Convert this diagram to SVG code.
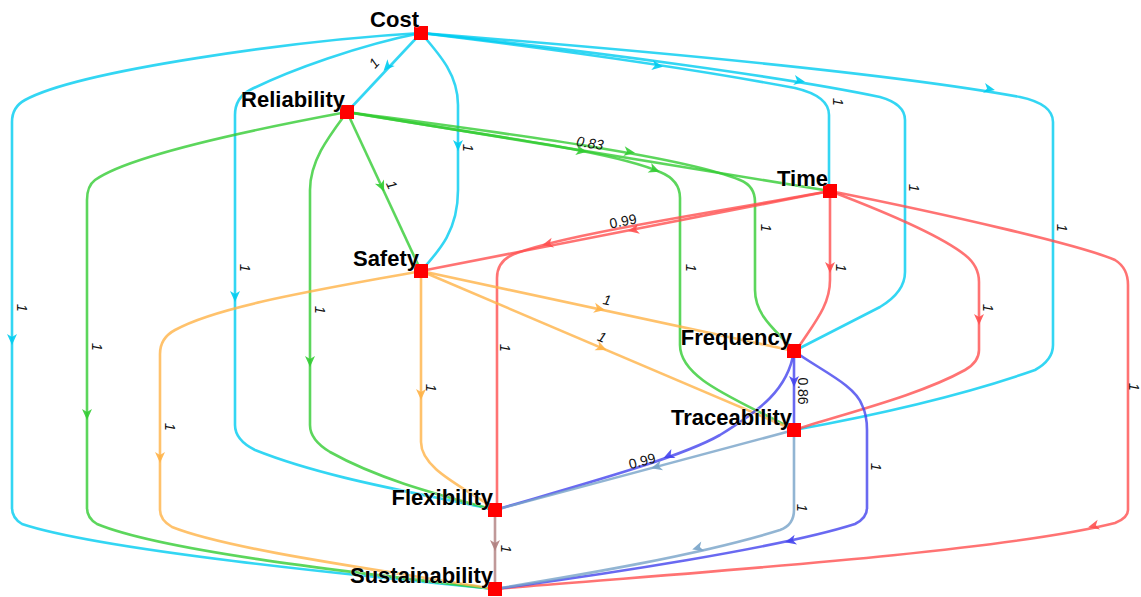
<svg xmlns="http://www.w3.org/2000/svg" xmlns:xlink="http://www.w3.org/1999/xlink" width="1141" height="597" viewBox="0 0 1141 597">
<style>
.e{fill:none;stroke-width:2.6;stroke-opacity:0.8;stroke-linejoin:round}
.cy{stroke:#00ccf0;fill:#00ccf0}
.gr{stroke:#33cc33;fill:#33cc33}
.rd{stroke:#ff5050;fill:#ff5050}
.or{stroke:#ffb347;fill:#ffb347}
.bl{stroke:#4444ee;fill:#4444ee}
.st{stroke:#77a3c8;fill:#77a3c8}
.br{stroke:#b08080;fill:#b08080}
.a{stroke:none;fill-opacity:0.9}
.l{font-family:"Liberation Sans",Arial,sans-serif;font-size:14px;font-style:italic;fill:#111;text-anchor:middle}
.lu{font-style:normal}
.n{font-family:"Liberation Sans",Arial,sans-serif;font-size:22px;font-weight:bold;fill:#000;text-anchor:end;stroke:#fff;stroke-width:0.6;paint-order:stroke}
.sq{fill:#ff0000}
</style>
<defs>
<path id="ah" d="M5,0 L-6,-5 L-3,0 L-6,5 Z"/>
</defs>
<g id="connectors">
<path class="e cy" style="fill:none" d="M421,33 L347,112"/>
<path class="e cy" style="fill:none" d="M421,33 C440,55 458,75 458,105 L458,190 C458,230 440,250 421,271"/>
<path class="e cy" style="fill:none" d="M421,33 C560,50 700,70 795,88 Q829,96 829,115 L829,184"/>
<path class="e cy" style="fill:none" d="M421,33 C600,52 790,78 880,97 Q905,104 905,120 L905,272 Q905,292 880,307 L800,348"/>
<path class="e cy" style="fill:none" d="M421,33 C700,55 900,75 1020,97 Q1053,104 1053,122 L1053,345 Q1053,360 1035,370 C950,400 860,418 794,430"/>
<path class="e cy" style="fill:none" d="M421,33 C360,45 290,70 250,90 Q235,98 235,115 L235,425 Q235,440 255,450 C330,480 430,495 495,510"/>
<path class="e cy" style="fill:none" d="M421,33 C300,40 80,70 25,100 Q12,107 12,122 L12,508 Q12,518 22,524 C100,550 350,575 495,589"/>
<path class="e gr" style="fill:none" d="M347,112 L421,271"/>
<path class="e gr" style="fill:none" d="M347,112 C330,135 310,160 310,190 L310,425 Q310,440 330,452 C380,480 440,495 495,510"/>
<path class="e gr" style="fill:none" d="M347,112 C250,130 130,155 95,180 Q87,186 87,200 L87,508 Q87,518 97,524 C160,550 330,570 495,589"/>
<path class="e gr" style="fill:none" d="M347,112 L830,191"/>
<path class="e gr" style="fill:none" d="M347,112 C480,130 680,155 740,180 Q755,186 755,202 L755,290 C755,318 780,333 794,351"/>
<path class="e gr" style="fill:none" d="M347,112 C480,135 610,150 660,172 Q680,180 680,198 L680,345 C680,380 740,400 794,430"/>
<path class="e rd" style="fill:none" d="M830,191 L421,271"/>
<path class="e rd" style="fill:none" d="M830,191 C700,215 560,235 512,255 Q497,262 497,278 L497,510"/>
<path class="e rd" style="fill:none" d="M830,191 L830,280 C830,305 815,322 798,348"/>
<path class="e rd" style="fill:none" d="M830,191 C880,210 940,235 965,255 Q979,266 979,282 L979,350 Q979,362 965,370 C920,395 850,412 794,430"/>
<path class="e rd" style="fill:none" d="M830,191 C950,215 1080,245 1115,260 Q1128,268 1128,285 L1128,510 Q1128,518 1115,523 C1000,552 700,572 495,589"/>
<path class="e or" style="fill:none" d="M421,271 L794,351"/>
<path class="e or" style="fill:none" d="M421,271 L794,430"/>
<path class="e or" style="fill:none" d="M421,271 L421,442 C421,468 460,485 492,507"/>
<path class="e or" style="fill:none" d="M421,271 C330,288 220,305 175,330 Q160,338 160,354 L160,510 Q160,520 172,527 C230,550 380,570 495,589"/>
<path class="e bl" style="fill:none" d="M794,351 L794,430"/>
<path class="e bl" style="fill:none" d="M794,351 C788,390 760,410 720,435 C680,458 580,485 495,510"/>
<path class="e bl" style="fill:none" d="M794,351 C820,370 855,385 862,405 Q867,415 867,430 L867,508 Q867,518 855,524 C780,548 600,575 495,589"/>
<path class="e st" style="fill:none" d="M794,430 L495,510"/>
<path class="e st" style="fill:none" d="M794,430 L794,510 Q794,525 780,530 C700,555 580,575 495,589"/>
<path class="e br" style="fill:none" d="M495,510 L495,589"/>
<use href="#ah" class="a cy" transform="translate(387,67) rotate(133)"/>
<use href="#ah" class="a cy" transform="translate(458,146) rotate(90)"/>
<use href="#ah" class="a cy" transform="translate(658,66) rotate(9)"/>
<use href="#ah" class="a cy" transform="translate(800,81) rotate(10)"/>
<use href="#ah" class="a cy" transform="translate(990,89) rotate(11)"/>
<use href="#ah" class="a cy" transform="translate(235,297) rotate(90)"/>
<use href="#ah" class="a cy" transform="translate(12,340) rotate(90)"/>
<use href="#ah" class="a gr" transform="translate(382,187) rotate(65)"/>
<use href="#ah" class="a gr" transform="translate(310,362) rotate(90)"/>
<use href="#ah" class="a gr" transform="translate(87,415) rotate(90)"/>
<use href="#ah" class="a gr" transform="translate(582,151) rotate(9)"/>
<use href="#ah" class="a gr" transform="translate(630,152) rotate(8)"/>
<use href="#ah" class="a gr" transform="translate(655,170) rotate(22)"/>
<use href="#ah" class="a rd" transform="translate(633,230) rotate(169)"/>
<use href="#ah" class="a rd" transform="translate(547,244) rotate(166)"/>
<use href="#ah" class="a rd" transform="translate(830,268) rotate(90)"/>
<use href="#ah" class="a rd" transform="translate(979,320) rotate(90)"/>
<use href="#ah" class="a rd" transform="translate(1093,526) rotate(166)"/>
<use href="#ah" class="a or" transform="translate(600,309) rotate(12)"/>
<use href="#ah" class="a or" transform="translate(602,348) rotate(23)"/>
<use href="#ah" class="a or" transform="translate(421,395) rotate(90)"/>
<use href="#ah" class="a or" transform="translate(160,458) rotate(90)"/>
<use href="#ah" class="a bl" transform="translate(794,382) rotate(90)"/>
<use href="#ah" class="a bl" transform="translate(668,456) rotate(155)"/>
<use href="#ah" class="a bl" transform="translate(790,541) rotate(166)"/>
<use href="#ah" class="a st" transform="translate(656,467) rotate(165)"/>
<use href="#ah" class="a st" transform="translate(697,548) rotate(163)"/>
<use href="#ah" class="a br" transform="translate(495,546) rotate(90)"/>
<text class="l" transform="translate(374,63) rotate(-47)" dy="5">1</text>
<text class="l" transform="translate(468,148) rotate(90)" dy="5">1</text>
<text class="l" transform="translate(838,102) rotate(90)" dy="5">1</text>
<text class="l" transform="translate(914,188) rotate(90)" dy="5">1</text>
<text class="l" transform="translate(1062,228) rotate(90)" dy="5">1</text>
<text class="l" transform="translate(245,268) rotate(90)" dy="5">1</text>
<text class="l" transform="translate(22,308) rotate(90)" dy="5">1</text>
<text class="l" transform="translate(392,185) rotate(65)" dy="5">1</text>
<text class="l" transform="translate(320,310) rotate(90)" dy="5">1</text>
<text class="l" transform="translate(97,347) rotate(90)" dy="5">1</text>
<text class="l" transform="translate(590,143) rotate(9)" dy="5">0.83</text>
<text class="l" transform="translate(766,228) rotate(90)" dy="5">1</text>
<text class="l" transform="translate(691,268) rotate(90)" dy="5">1</text>
<text class="l lu" transform="translate(623,221) rotate(-11)" dy="5">0.99</text>
<text class="l" transform="translate(505,348) rotate(90)" dy="5">1</text>
<text class="l" transform="translate(841,268) rotate(90)" dy="5">1</text>
<text class="l" transform="translate(988,308) rotate(90)" dy="5">1</text>
<text class="l" transform="translate(1133,387) rotate(90)" dy="4">1</text>
<text class="l" transform="translate(607,300) rotate(12)" dy="5">1</text>
<text class="l" transform="translate(602,337) rotate(23)" dy="5">1</text>
<text class="l" transform="translate(431,388) rotate(90)" dy="5">1</text>
<text class="l" transform="translate(170,427) rotate(90)" dy="5">1</text>
<text class="l lu" transform="translate(803,391) rotate(90)" dy="5">0.86</text>
<text class="l" transform="translate(876,467) rotate(90)" dy="5">1</text>
<text class="l lu" transform="translate(642,461) rotate(-15)" dy="5">0.99</text>
<text class="l" transform="translate(802,508) rotate(90)" dy="5">1</text>
<text class="l" transform="translate(506,549) rotate(90)" dy="5">1</text>
</g>
<g id="node-cost"><rect class="sq" x="414" y="26" width="14" height="14"/><text class="n" x="419" y="27">Cost</text></g>
<g id="node-reliability"><rect class="sq" x="340" y="105" width="14" height="14"/><text class="n" x="345" y="107">Reliability</text></g>
<g id="node-time"><rect class="sq" x="823" y="184" width="14" height="14"/><text class="n" x="828" y="186">Time</text></g>
<g id="node-safety"><rect class="sq" x="414" y="264" width="14" height="14"/><text class="n" x="419" y="266">Safety</text></g>
<g id="node-frequency"><rect class="sq" x="787" y="344" width="14" height="14"/><text class="n" x="792" y="345">Frequency</text></g>
<g id="node-traceability"><rect class="sq" x="787" y="423" width="14" height="14"/><text class="n" x="792" y="425">Traceability</text></g>
<g id="node-flexibility"><rect class="sq" x="488" y="503" width="14" height="14"/><text class="n" x="493" y="505">Flexibility</text></g>
<g id="node-sustainability"><rect class="sq" x="488" y="582" width="14" height="14"/><text class="n" x="493" y="583">Sustainability</text></g>
</svg>
